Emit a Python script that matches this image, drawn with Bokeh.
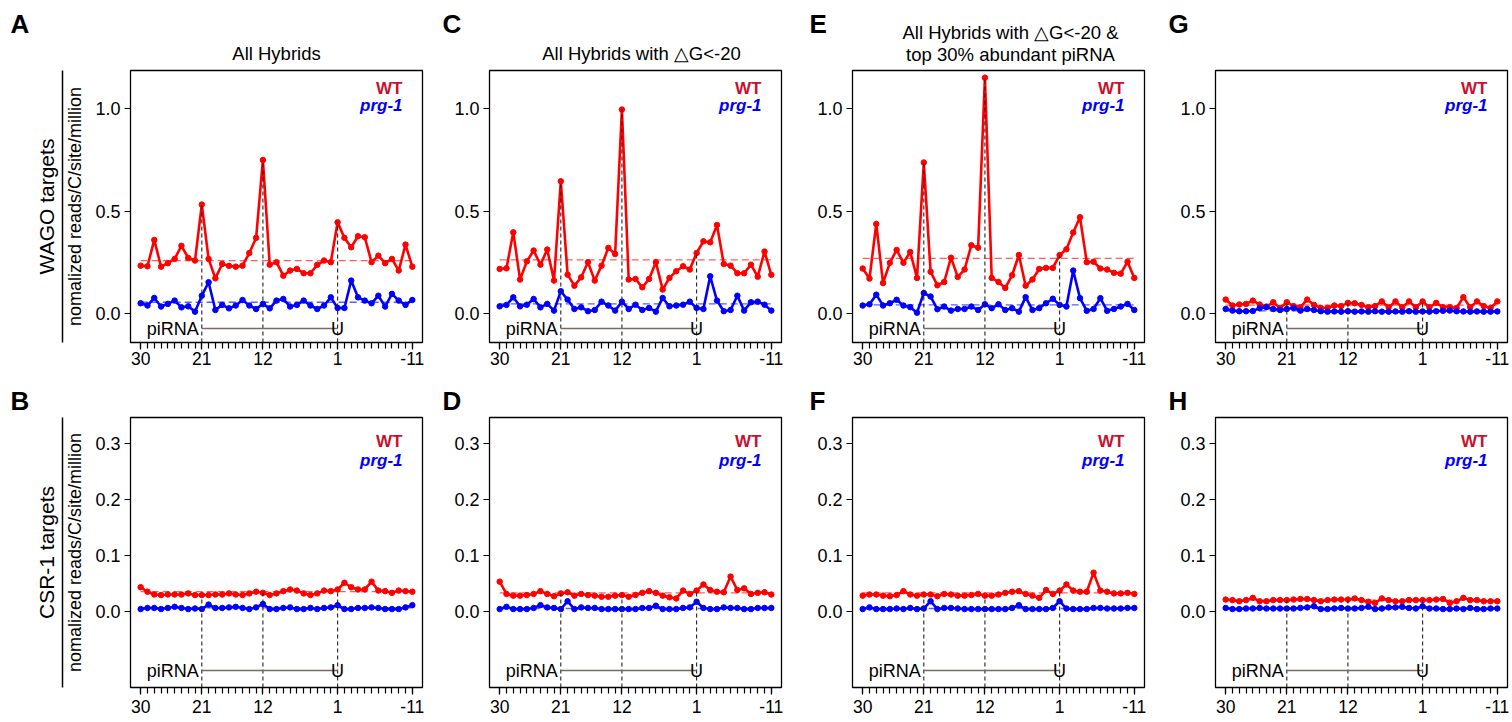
from bokeh.plotting import figure
from bokeh.models import Range1d, FixedTicker, NumeralTickFormatter, LinearAxis, Label
from bokeh.layouts import row, column
from bokeh.embed import file_html
from bokeh.resources import INLINE

# ---------------- data ----------------
positions = [30, 29, 28, 27, 26, 25, 24, 23, 22, 21, 20, 19, 18, 17, 16, 15, 14, 13, 12, 11,
             10, 9, 8, 7, 6, 5, 4, 3, 2, 1, -1, -2, -3, -4, -5, -6, -7, -8, -9, -10, -11]
x_tick_positions = [30, 21, 12, 1, -11]
x_tick_labels = ["30", "21", "12", "1", "-11"]
marked_positions = [21, 12, 1]
top_yticks = [0.0, 0.5, 1.0]
bottom_yticks = [0.0, 0.1, 0.2, 0.3]

wt_A = [0.233, 0.230, 0.359, 0.228, 0.245, 0.266, 0.330, 0.271, 0.258, 0.532,
        0.266, 0.171, 0.241, 0.232, 0.228, 0.233, 0.295, 0.369, 0.750, 0.238,
        0.250, 0.184, 0.209, 0.217, 0.196, 0.196, 0.237, 0.258, 0.250, 0.445,
        0.369, 0.323, 0.377, 0.372, 0.250, 0.282, 0.245, 0.266, 0.209, 0.336, 0.228]
prg1_A = [0.049, 0.038, 0.075, 0.033, 0.046, 0.062, 0.029, 0.034, 0.008, 0.086,
          0.152, 0.016, 0.041, 0.024, 0.038, 0.065, 0.038, 0.021, 0.046, 0.024,
          0.062, 0.070, 0.033, 0.041, 0.062, 0.038, 0.021, 0.038, 0.078, 0.026,
          0.026, 0.160, 0.078, 0.062, 0.049, 0.086, 0.033, 0.095, 0.062, 0.041, 0.065]
wt_C = [0.217, 0.220, 0.396, 0.165, 0.254, 0.307, 0.238, 0.312, 0.160, 0.646,
        0.189, 0.135, 0.176, 0.250, 0.160, 0.233, 0.320, 0.290, 0.997, 0.165,
        0.168, 0.127, 0.168, 0.250, 0.116, 0.173, 0.206, 0.230, 0.214, 0.295,
        0.352, 0.347, 0.432, 0.241, 0.233, 0.196, 0.196, 0.238, 0.179, 0.302, 0.188]
prg1_C = [0.034, 0.041, 0.078, 0.034, 0.042, 0.070, 0.029, 0.046, 0.013, 0.108,
          0.067, 0.021, 0.029, 0.010, 0.016, 0.057, 0.038, 0.013, 0.057, 0.021,
          0.042, 0.016, 0.026, 0.008, 0.075, 0.034, 0.038, 0.042, 0.057, 0.026,
          0.021, 0.181, 0.062, 0.010, 0.016, 0.086, 0.013, 0.054, 0.057, 0.042, 0.013]
wt_E = [0.219, 0.170, 0.437, 0.148, 0.247, 0.310, 0.247, 0.300, 0.173, 0.738,
        0.203, 0.137, 0.153, 0.272, 0.178, 0.214, 0.333, 0.321, 1.153, 0.173,
        0.153, 0.124, 0.186, 0.285, 0.135, 0.165, 0.217, 0.222, 0.222, 0.285,
        0.313, 0.395, 0.470, 0.250, 0.252, 0.219, 0.214, 0.198, 0.194, 0.252, 0.173]
prg1_E = [0.038, 0.044, 0.091, 0.038, 0.049, 0.066, 0.038, 0.030, 0.003, 0.099,
          0.082, 0.020, 0.033, 0.013, 0.021, 0.021, 0.033, 0.016, 0.044, 0.025,
          0.044, 0.016, 0.025, 0.008, 0.079, 0.016, 0.025, 0.049, 0.071, 0.041,
          0.033, 0.209, 0.074, 0.012, 0.021, 0.074, 0.012, 0.021, 0.033, 0.046, 0.016]
wt_G = [0.067, 0.038, 0.043, 0.046, 0.062, 0.043, 0.033, 0.054, 0.026, 0.054,
        0.035, 0.030, 0.067, 0.041, 0.026, 0.026, 0.038, 0.035, 0.051, 0.049,
        0.041, 0.030, 0.035, 0.058, 0.030, 0.058, 0.030, 0.058, 0.030, 0.058,
        0.030, 0.051, 0.030, 0.030, 0.026, 0.079, 0.030, 0.058, 0.035, 0.026, 0.058]
prg1_G = [0.021, 0.013, 0.010, 0.010, 0.011, 0.025, 0.030, 0.021, 0.016, 0.021,
          0.026, 0.013, 0.021, 0.016, 0.010, 0.008, 0.009, 0.008, 0.010, 0.008,
          0.009, 0.008, 0.010, 0.008, 0.008, 0.009, 0.008, 0.010, 0.008, 0.009,
          0.008, 0.010, 0.012, 0.013, 0.010, 0.009, 0.008, 0.009, 0.008, 0.008, 0.009]
wt_B = [0.043, 0.035, 0.030, 0.029, 0.030, 0.030, 0.030, 0.032, 0.029, 0.029,
        0.029, 0.030, 0.030, 0.032, 0.030, 0.029, 0.032, 0.035, 0.033, 0.029,
        0.032, 0.036, 0.039, 0.037, 0.032, 0.029, 0.032, 0.037, 0.036, 0.039,
        0.051, 0.043, 0.039, 0.039, 0.053, 0.037, 0.036, 0.033, 0.037, 0.036, 0.035]
prg1_B = [0.004, 0.006, 0.006, 0.004, 0.006, 0.008, 0.006, 0.004, 0.005, 0.004,
          0.012, 0.006, 0.006, 0.007, 0.008, 0.006, 0.004, 0.007, 0.013, 0.004,
          0.004, 0.006, 0.007, 0.004, 0.004, 0.006, 0.004, 0.006, 0.007, 0.011,
          0.004, 0.004, 0.006, 0.006, 0.007, 0.006, 0.004, 0.004, 0.004, 0.007, 0.011]
wt_D = [0.053, 0.031, 0.028, 0.028, 0.029, 0.031, 0.036, 0.031, 0.027, 0.032,
        0.034, 0.028, 0.031, 0.029, 0.028, 0.026, 0.026, 0.028, 0.029, 0.026,
        0.029, 0.033, 0.036, 0.033, 0.028, 0.025, 0.023, 0.037, 0.031, 0.037,
        0.048, 0.038, 0.035, 0.034, 0.062, 0.038, 0.041, 0.031, 0.033, 0.034, 0.030]
prg1_D = [0.004, 0.008, 0.004, 0.004, 0.004, 0.006, 0.011, 0.007, 0.006, 0.004,
          0.018, 0.004, 0.007, 0.006, 0.006, 0.004, 0.004, 0.004, 0.004, 0.004,
          0.004, 0.006, 0.006, 0.010, 0.004, 0.004, 0.004, 0.006, 0.007, 0.017,
          0.006, 0.004, 0.004, 0.007, 0.006, 0.006, 0.004, 0.004, 0.006, 0.006, 0.006]
wt_F = [0.028, 0.030, 0.030, 0.028, 0.027, 0.029, 0.036, 0.030, 0.028, 0.030,
        0.030, 0.027, 0.031, 0.030, 0.028, 0.028, 0.029, 0.031, 0.028, 0.028,
        0.030, 0.033, 0.035, 0.036, 0.031, 0.028, 0.024, 0.038, 0.031, 0.037,
        0.048, 0.037, 0.035, 0.035, 0.069, 0.037, 0.035, 0.032, 0.032, 0.033, 0.031]
prg1_F = [0.004, 0.007, 0.004, 0.004, 0.004, 0.005, 0.004, 0.006, 0.004, 0.005,
          0.018, 0.004, 0.006, 0.006, 0.005, 0.004, 0.004, 0.004, 0.004, 0.004,
          0.004, 0.004, 0.006, 0.011, 0.004, 0.004, 0.004, 0.004, 0.006, 0.018,
          0.005, 0.004, 0.004, 0.004, 0.006, 0.006, 0.005, 0.005, 0.005, 0.006, 0.006]
wt_H = [0.021, 0.020, 0.018, 0.020, 0.024, 0.018, 0.018, 0.020, 0.020, 0.020,
        0.021, 0.022, 0.022, 0.020, 0.018, 0.020, 0.021, 0.021, 0.021, 0.023,
        0.020, 0.017, 0.015, 0.023, 0.020, 0.018, 0.018, 0.020, 0.020, 0.020,
        0.020, 0.021, 0.022, 0.015, 0.018, 0.024, 0.020, 0.020, 0.018, 0.018, 0.018]
prg1_H = [0.006, 0.004, 0.004, 0.005, 0.005, 0.006, 0.005, 0.005, 0.005, 0.005,
          0.005, 0.006, 0.007, 0.009, 0.004, 0.004, 0.005, 0.006, 0.005, 0.005,
          0.006, 0.008, 0.004, 0.005, 0.007, 0.007, 0.008, 0.006, 0.005, 0.009,
          0.005, 0.005, 0.004, 0.004, 0.005, 0.004, 0.006, 0.004, 0.004, 0.005, 0.005]

panel_letters = ["A", "C", "E", "G", "B", "D", "F", "H"]
wt_series = [wt_A, wt_C, wt_E, wt_G, wt_B, wt_D, wt_F, wt_H]
prg1_series = [prg1_A, prg1_C, prg1_E, prg1_G, prg1_B, prg1_D, prg1_F, prg1_H]
wt_level = [0.258, 0.261, 0.269, 0.040, 0.035, 0.033, 0.033, 0.020]
prg1_level = [0.054, 0.046, 0.041, 0.012, 0.006, 0.005, 0.005, 0.005]
panel_titles = [["All Hybrids"], ["All Hybrids with \u25b3G<-20"],
                ["All Hybrids with \u25b3G<-20 &", "top 30% abundant piRNA"], []]
row_labels = ["WAGO targets", "CSR-1 targets"]
y_axis_label = "nomalized reads/C/site/million"
legend_labels = ["WT", "prg-1"]

# ---------------- layout / style ----------------
FONT = "Liberation Sans"
RED = "#FF0000"
BLUE = "#0000FF"
WT_TEXT = "#C8102E"
TOTAL_W = 1510
COLS = [dict(width=438, left=130, right=16, letter_x=10, title_dx=0),
        dict(width=367, left=51, right=24, letter_x=442, title_dx=6),
        dict(width=358, left=47, right=19, letter_x=809, title_dx=12),
        dict(width=347, left=52, right=3, letter_x=1168, title_dx=0)]
ROWS = [dict(height=310, top=2, bottom=36, y0=-0.143, y1=1.188, yticks=top_yticks,
             xstand=2, pi_dy=258, wt_dy=18, prg_dy=35),
        dict(height=305, top=2, bottom=33, y0=-0.136, y1=0.346, yticks=bottom_yticks,
             xstand=5, pi_dy=253, wt_dy=24, prg_dy=43)]
# vertical centres (px from header top) of the texts in the header strips
HEADERS = [dict(height=68, letter_mid=23, title_mid=[[53], [53], [32, 54], []]),
           dict(height=37, letter_mid=22, title_mid=[[], [], [], []])]
X0, X1 = -1.5, 41.5

idx = list(range(len(positions)))
idx_of = {p: i for i, p in enumerate(positions)}


def make_header(r):
    h = HEADERS[r]
    p = figure(width=TOTAL_W, height=h["height"], x_range=Range1d(0, TOTAL_W),
               y_range=Range1d(0, h["height"]), output_backend="svg", toolbar_location=None,
               x_axis_location=None, y_axis_location=None, min_border=0)
    p.grid.visible = False
    p.outline_line_color = None
    x_left = 0
    for c, col in enumerate(COLS):
        k = r * 4 + c
        p.add_layout(Label(x=col["letter_x"], y=h["height"] - h["letter_mid"],
                           text=panel_letters[k], text_align="left", text_baseline="middle",
                           text_font=FONT, text_font_size="26px", text_font_style="bold",
                           text_color="black"))
        frame_center = x_left + col["left"] + (col["width"] - col["left"] - col["right"]) / 2
        if r == 0:
            for line, mid in zip(panel_titles[c], h["title_mid"][c]):
                p.add_layout(Label(x=frame_center + col["title_dx"], y=h["height"] - mid,
                                   text=line, text_align="center", text_baseline="middle",
                                   text_font=FONT, text_font_size="18.5px", text_color="black"))
        x_left += col["width"]
    return p


def make_panel(k):
    r = ROWS[k // 4]
    c = COLS[k % 4]
    FW = c["width"] - c["left"] - c["right"]
    FH = r["height"] - r["top"] - r["bottom"]

    def fx(px):
        return X0 + px * (X1 - X0) / FW

    def fy(px_from_top):
        return r["y1"] - px_from_top * (r["y1"] - r["y0"]) / FH

    p = figure(width=c["width"], height=r["height"],
               x_range=Range1d(X0, X1), y_range=Range1d(r["y0"], r["y1"]),
               output_backend="svg", toolbar_location=None,
               min_border_left=c["left"], min_border_right=c["right"],
               min_border_top=r["top"], min_border_bottom=r["bottom"])
    p.grid.visible = False
    p.outline_line_color = "black"
    p.outline_line_width = 1.3

    # x axis
    xa = p.xaxis[0]
    xa.ticker = FixedTicker(ticks=[idx_of[v] for v in x_tick_positions], minor_ticks=idx)
    xa.major_label_overrides = {idx_of[v]: lab for v, lab in zip(x_tick_positions, x_tick_labels)}
    xa.axis_line_color = None
    xa.major_tick_in = 0
    xa.major_tick_out = 7
    xa.minor_tick_in = 0
    xa.minor_tick_out = 6
    xa.major_tick_line_color = "black"
    xa.minor_tick_line_color = "black"
    xa.major_tick_line_width = 1.2
    xa.minor_tick_line_width = 1.2
    xa.major_label_text_font = FONT
    xa.major_label_text_font_size = "17.5px"
    xa.major_label_text_color = "black"
    xa.major_label_standoff = r["xstand"]

    # y axis
    ya = p.yaxis[0]
    ya.ticker = FixedTicker(ticks=r["yticks"])
    ya.formatter = NumeralTickFormatter(format="0.0")
    ya.axis_line_color = None
    ya.major_tick_in = 0
    ya.major_tick_out = 6
    ya.minor_tick_line_color = None
    ya.major_tick_line_color = "black"
    ya.major_tick_line_width = 1.2
    ya.major_label_text_font = FONT
    ya.major_label_text_font_size = "18px"
    ya.major_label_text_color = "black"
    ya.major_label_standoff = 4

    if k % 4 == 0:
        ya.axis_label = y_axis_label
        ya.axis_label_text_font = FONT
        ya.axis_label_text_font_size = "18px"
        ya.axis_label_text_font_style = "normal"
        ya.axis_label_text_color = "black"
        ya.axis_label_standoff = 7
        ax2 = LinearAxis(ticker=FixedTicker(ticks=[]), axis_label=row_labels[k // 4],
                         axis_label_text_font=FONT, axis_label_text_font_size="21px",
                         axis_label_text_font_style="normal", axis_label_text_color="black",
                         axis_label_standoff=5, major_label_standoff=0,
                         major_tick_out=0, major_tick_in=0, minor_tick_out=0, minor_tick_in=0,
                         axis_line_color="black", axis_line_width=1.5)
        p.add_layout(ax2, "left")

    wt = wt_series[k]
    prg = prg1_series[k]

    # mean level dashed lines
    p.segment(x0=[idx[0]], x1=[idx[-1]], y0=[wt_level[k]], y1=[wt_level[k]],
              line_color="#FF3333", line_alpha=0.8, line_width=1.3, line_dash="7 4")
    p.segment(x0=[idx[0]], x1=[idx[-1]], y0=[prg1_level[k]], y1=[prg1_level[k]],
              line_color="#3333FF", line_alpha=0.8, line_width=1.3, line_dash="7 4")

    # series
    p.line(idx, wt, line_color=RED, line_width=2.6)
    p.scatter(idx, wt, size=5.5, fill_color=RED, line_color=RED)
    p.line(idx, prg, line_color=BLUE, line_width=2.6)
    p.scatter(idx, prg, size=5.5, fill_color=BLUE, line_color=BLUE)

    # vertical dashed markers
    mx = [idx_of[m] for m in marked_positions]
    p.segment(x0=mx, x1=mx, y0=[r["y0"]] * len(mx), y1=[wt[i] for i in mx],
              line_color="#222222", line_width=1.1, line_dash="4 3")

    # piRNA bar
    ypi = fy(r["pi_dy"])
    p.segment(x0=[idx_of[marked_positions[0]]], x1=[idx_of[marked_positions[-1]]],
              y0=[ypi], y1=[ypi], line_color="#7a6a60", line_width=1.5)
    p.add_layout(Label(x=idx_of[marked_positions[0]], y=ypi, text="piRNA", x_offset=-3,
                       text_align="right", text_baseline="middle", text_font=FONT,
                       text_font_size="18px", text_color="black"))
    p.add_layout(Label(x=idx_of[marked_positions[-1]], y=ypi, text="U",
                       text_align="center", text_baseline="middle", text_font=FONT,
                       text_font_size="18px", text_color="black"))

    # legend text
    p.add_layout(Label(x=fx(FW - 20), y=fy(r["wt_dy"]), text=legend_labels[0],
                       text_align="right", text_baseline="middle", text_font=FONT,
                       text_font_size="17px", text_font_style="bold", text_color=WT_TEXT))
    p.add_layout(Label(x=fx(FW - 20), y=fy(r["prg_dy"]), text=legend_labels[1],
                       text_align="right", text_baseline="middle", text_font=FONT,
                       text_font_size="17px", text_font_style="bold italic", text_color=BLUE))
    return p


figs = [make_panel(k) for k in range(8)]
layout = column(make_header(0), row(*figs[:4], spacing=0),
                make_header(1), row(*figs[4:], spacing=0), spacing=0)
open("out.html", "w").write(file_html(layout, INLINE))
